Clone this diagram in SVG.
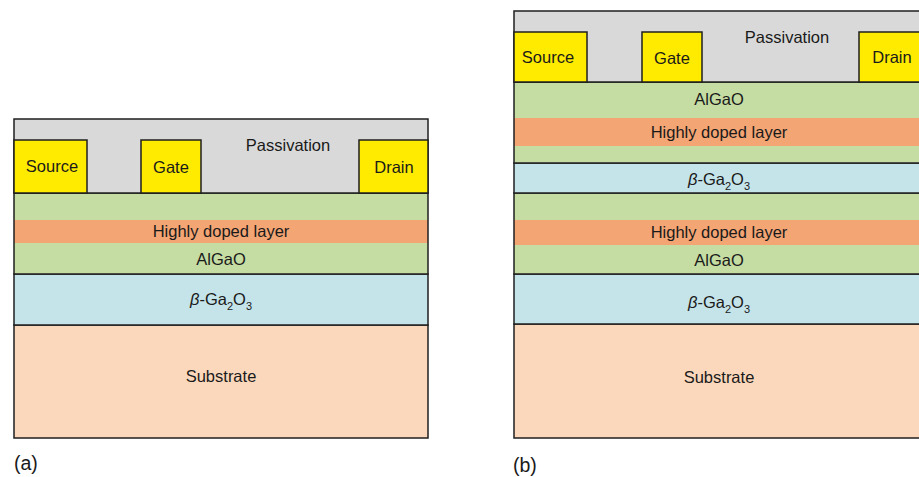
<svg xmlns="http://www.w3.org/2000/svg" width="919" height="477" viewBox="0 0 919 477">
<style>
text{font-family:"Liberation Sans",Arial,sans-serif;font-size:16.5px;fill:#1a1a1a}
.c{text-anchor:middle}
.sub{font-size:11px}
.lbl{font-size:19.5px}
.b{stroke:#1f1f1f;stroke-width:1.5}
.pas{fill:#d9d9d9}
.el{fill:#ffeb00}
.gr{fill:#c5dca3}
.or{fill:#f4a574}
.bl{fill:#c5e4ea}
.su{fill:#fbd8bb}
</style>
<rect width="919" height="477" fill="#fff"/>
<g id="panel-a">
  <g id="a-substrate"><rect class="su b" x="14" y="325" width="414" height="113"/><text class="c" x="221" y="382">Substrate</text></g>
  <g id="a-ga2o3"><rect class="bl b" x="14" y="274" width="414" height="51"/><text class="c" x="221" y="305"><tspan font-style="italic">β</tspan>-Ga<tspan class="sub" dy="5">2</tspan><tspan dy="-5">O</tspan><tspan class="sub" dy="5">3</tspan></text></g>
  <g id="a-algao"><rect class="gr" x="14" y="193" width="414" height="81"/><rect class="or" x="14" y="220" width="414" height="23"/><text class="c" x="221" y="237">Highly doped layer</text><text class="c" x="221" y="265">AlGaO</text><rect x="14" y="193" width="414" height="81" fill="none" class="b"/></g>
  <g id="a-passivation"><rect class="pas b" x="14" y="119" width="414" height="74"/><text class="c" x="288" y="151">Passivation</text></g>
  <g id="a-source"><rect class="el b" x="14" y="140" width="73" height="53"/><text class="c" x="52" y="172">Source</text></g>
  <g id="a-gate"><rect class="el b" x="141" y="140" width="60" height="53"/><text class="c" x="171" y="173">Gate</text></g>
  <g id="a-drain"><rect class="el b" x="359" y="140" width="69" height="53"/><text class="c" x="394" y="173">Drain</text></g>
  <text class="lbl" x="14" y="470">(a)</text>
</g>
<g id="panel-b">
  <g id="b-substrate"><rect class="su b" x="514" y="324" width="412" height="114"/><text class="c" x="719" y="383">Substrate</text></g>
  <g id="b-ga2o3-lower"><rect class="bl b" x="514" y="274" width="412" height="50"/><text class="c" x="719" y="308"><tspan font-style="italic">β</tspan>-Ga<tspan class="sub" dy="5">2</tspan><tspan dy="-5">O</tspan><tspan class="sub" dy="5">3</tspan></text></g>
  <g id="b-algao-lower"><rect class="gr" x="514" y="193" width="412" height="81"/><rect class="or" x="514" y="220" width="412" height="25"/><text class="c" x="719" y="238">Highly doped layer</text><text class="c" x="719" y="266">AlGaO</text><rect x="514" y="193" width="412" height="81" fill="none" class="b"/></g>
  <g id="b-ga2o3-upper"><rect class="bl b" x="514" y="163" width="412" height="30"/><text class="c" x="719" y="185"><tspan font-style="italic">β</tspan>-Ga<tspan class="sub" dy="5">2</tspan><tspan dy="-5">O</tspan><tspan class="sub" dy="5">3</tspan></text></g>
  <g id="b-algao-upper"><rect class="gr" x="514" y="82" width="412" height="81"/><rect class="or" x="514" y="118" width="412" height="28"/><text class="c" x="719" y="105">AlGaO</text><text class="c" x="719" y="138">Highly doped layer</text><rect x="514" y="82" width="412" height="81" fill="none" class="b"/></g>
  <g id="b-passivation"><rect class="pas b" x="514" y="11" width="412" height="71"/><text class="c" x="787" y="43">Passivation</text></g>
  <g id="b-source"><rect class="el b" x="514" y="32" width="73" height="50"/><text class="c" x="548" y="63">Source</text></g>
  <g id="b-gate"><rect class="el b" x="642" y="32" width="60" height="50"/><text class="c" x="672" y="64">Gate</text></g>
  <g id="b-drain"><rect class="el b" x="859" y="32" width="67" height="50"/><text class="c" x="892" y="63">Drain</text></g>
  <text class="lbl" x="513" y="472">(b)</text>
</g>
</svg>
